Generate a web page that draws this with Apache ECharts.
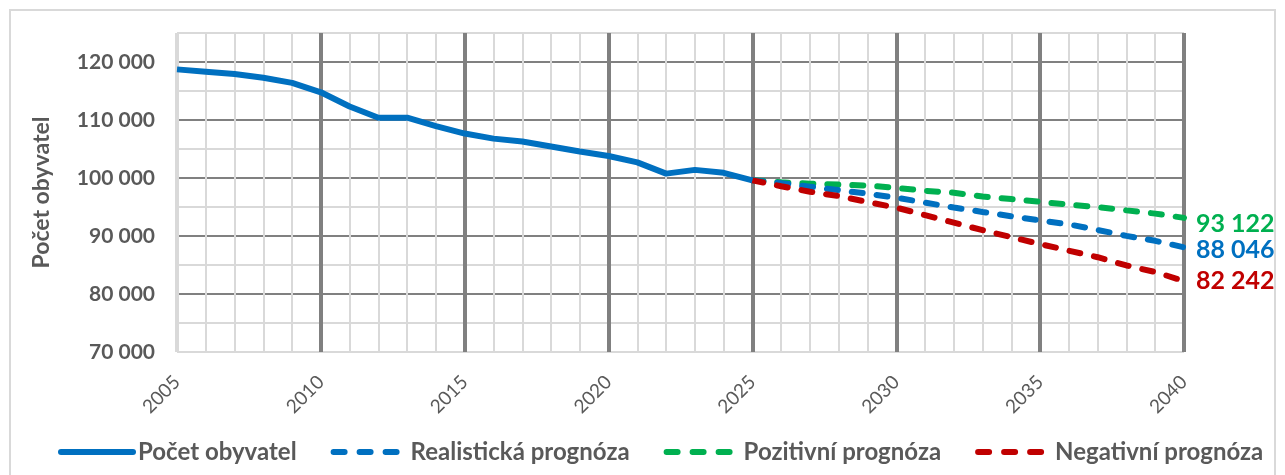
<!DOCTYPE html>
<html>
<head>
<meta charset="utf-8">
<script src="https://cdn.jsdelivr.net/npm/echarts@6/dist/echarts.min.js"></script>
<style>
  html, body { margin: 0; padding: 0; background: #fff; }
  #chart { width: 1285px; height: 475px; }
</style>
</head>
<body>
<div id="chart"></div>
<script>
// historie
const histYears = [2005, 2006, 2007, 2008, 2009, 2010, 2011, 2012, 2013, 2014, 2015,
  2016, 2017, 2018, 2019, 2020, 2021, 2022, 2023, 2024, 2025];
const population = [118730, 118330, 117920, 117290, 116400, 114780, 112330, 110400, 110400,
  108950, 107660, 106790, 106300, 105440, 104560, 103800, 102700, 100750, 101400, 100900, 99600];

// prognózy
const forecastYears = [2025, 2026, 2027, 2028, 2029, 2030, 2031, 2032, 2033, 2034, 2035,
  2036, 2037, 2038, 2039, 2040];
const realistic = [99600, 99100, 98500, 97900, 97300, 96600, 95760, 94910, 94150, 93400,
  92680, 92000, 91040, 90020, 89170, 88046];
const positive = [99600, 99250, 99030, 98860, 98690, 98300, 97800, 97460, 96800, 96360,
  95900, 95390, 95000, 94420, 93860, 93122];
const negative = [99600, 98580, 97630, 96880, 95860, 94900, 93600, 92300, 91000, 89800,
  88610, 87470, 86340, 84920, 83790, 82242];

const seriesNames = ['Počet obyvatel', 'Realistická prognóza', 'Pozitivní prognóza', 'Negativní prognóza'];
const BLUE = '#0070C0', GREEN = '#00B050', RED = '#C00000';
const TEXT = '#595959', LIGHT = '#d9d9d9', DARK = '#808080';

const fmt = v => String(v).replace(/\B(?=(\d{3})+(?!\d))/g, ' ');
const pairs = (xs, ys) => xs.map((x, i) => [x, ys[i]]);

// barvy vodorovných čar (po 5000): 70 000 a 125 000 světlé, desetitisíce tmavé
const yLineColors = [];
for (let v = 70000; v <= 125000; v += 5000) {
  yLineColors.push(v % 10000 === 0 && v > 70000 && v < 125000 ? DARK : LIGHT);
}

const chart = echarts.init(document.getElementById('chart'));

const dashed = (name, values, color, dy) => ({
  name: name,
  type: 'line',
  data: pairs(forecastYears, values),
  symbol: 'none',
  lineStyle: { color: color, width: 6, type: [11, 14], cap: 'round' },
  itemStyle: { color: color },
  endLabel: {
    show: true,
    formatter: () => fmt(values[values.length - 1]),
    color: color,
    fontSize: 25,
    fontWeight: 'bold',
    fontFamily: 'Lato',
    distance: 12,
    offset: [0, dy]
  },
  z: 3
});

const legendItem = (name, color, solid) => ({
  name: name,
  itemStyle: { color: color, opacity: 0 },
  lineStyle: solid
    ? { color: color, width: 6, type: 'solid', cap: 'round' }
    : { color: color, width: 6, type: [11, 15], cap: 'round' }
});

chart.setOption({
  animation: false,
  backgroundColor: '#fff',
  textStyle: { fontFamily: 'Lato' },
  graphic: [{
    type: 'rect',
    shape: { x: 10, y: 10, width: 1265, height: 480 },
    style: { fill: 'none', stroke: LIGHT, lineWidth: 2 },
    silent: true
  }],
  grid: { left: 177, right: 101, top: 33, bottom: 123 },
  legend: {
    bottom: 6,
    left: 53,
    width: 1280,
    itemWidth: 72,
    itemHeight: 6,
    itemGap: 34,
    textStyle: { color: TEXT, fontSize: 24, fontWeight: 'bold', fontFamily: 'Lato' },
    data: [
      legendItem(seriesNames[0], BLUE, true),
      legendItem(seriesNames[1], BLUE, false),
      legendItem(seriesNames[2], GREEN, false),
      legendItem(seriesNames[3], RED, false)
    ]
  },
  xAxis: {
    type: 'value',
    min: 2005,
    max: 2040,
    interval: 5,
    axisLine: { show: false },
    axisTick: { show: false },
    axisLabel: {
      rotate: 45,
      color: TEXT,
      fontSize: 19,
      margin: 27,
      formatter: v => String(v)
    },
    splitLine: {
      show: true,
      lineStyle: { color: [LIGHT, DARK, DARK, DARK, DARK, DARK, DARK, DARK], width: 4 }
    },
    minorTick: { show: false, splitNumber: 5 },
    minorSplitLine: { show: true, lineStyle: { color: LIGHT, width: 2 } }
  },
  yAxis: {
    type: 'value',
    min: 70000,
    max: 125000,
    interval: 5000,
    name: 'Počet obyvatel',
    nameLocation: 'middle',
    nameRotate: 90,
    nameGap: 124,
    nameTextStyle: { color: TEXT, fontSize: 23, fontWeight: 'bold', fontFamily: 'Lato' },
    axisLine: { show: false },
    axisTick: { show: false },
    axisLabel: {
      color: TEXT,
      fontSize: 21,
      fontWeight: 'bold',
      margin: 22,
      formatter: v => (v % 10000 === 0 && v < 125000 ? fmt(v) : '')
    },
    splitLine: { show: true, lineStyle: { color: yLineColors, width: 2 } }
  },
  series: [
    {
      name: seriesNames[0],
      type: 'line',
      data: pairs(histYears, population),
      symbol: 'none',
      lineStyle: { color: BLUE, width: 6 },
      itemStyle: { color: BLUE },
      z: 4
    },
    dashed(seriesNames[2], positive, GREEN, 6),
    dashed(seriesNames[1], realistic, BLUE, 3),
    dashed(seriesNames[3], negative, RED, 0)
  ]
});
</script>
</body>
</html>
